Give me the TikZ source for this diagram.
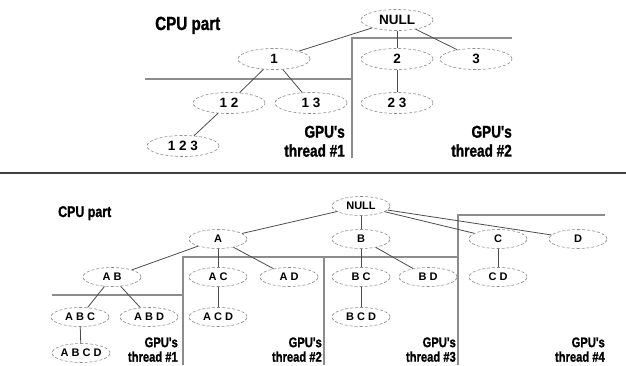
\documentclass[tikz,border=0pt]{standalone}
\usepackage{fontspec}
\setmainfont{Liberation Sans}
\newfontfamily\condfont[FakeStretch=0.8, FakeBold=1.2]{Liberation Sans Bold}
\usetikzlibrary{shapes.geometric}

\begin{document}
\begin{tikzpicture}[x=1pt, y=-1pt,
    noT/.style={ellipse, draw=black!45, dash pattern=on 3pt off 2pt, line width=0.6pt,
      minimum width=72pt, minimum height=21pt, inner sep=0pt,
      font=\fontsize{13.5}{15}\selectfont\bfseries},
    noB/.style={noT, minimum width=58pt, minimum height=19pt,
      font=\fontsize{11}{13}\selectfont\bfseries},
    aresta/.style={draw=black!70, line width=0.8pt},
    parede/.style={draw=black!45, line width=2.2pt},
    gpuT/.style={align=right, inner sep=0pt, anchor=south east,
      font=\condfont\fontsize{17}{19}\selectfont},
    gpuB/.style={gpuT, font=\condfont\fontsize{14}{14.5}\selectfont}]
  \useasboundingbox (0,0) rectangle (626,365);

  % Parte 1: conjuntos {1,2,3}
  \node[anchor=base west, inner sep=0pt, font=\condfont\fontsize{19}{21}\selectfont] (cpuT) at (155,30) {CPU part};
  \draw[parede] (145,79) -- (352,79);
  \draw[parede] (352,158) -- (352,38) -- (512,38);
  \node[noT] (nT) at (397,20) {NULL};
  \node[noT] (t1) at (274,59) {1};
  \node[noT] (t2) at (397,59) {2};
  \node[noT] (t3) at (476,59) {3};
  \node[noT] (t12) at (229,103) {1 2};
  \node[noT] (t13) at (311,103) {1 3};
  \node[noT] (t23) at (397,103) {2 3};
  \node[noT] (t123) at (183,146) {1 2 3};
  \draw[aresta] (nT) -- (t1);
  \draw[aresta] (nT) -- (t2);
  \draw[aresta] (nT) -- (t3);
  \draw[aresta] (t1) -- (t12);
  \draw[aresta] (t1) -- (t13);
  \draw[aresta] (t2) -- (t23);
  \draw[aresta] (t12) -- (t123);
  \node[gpuT] (gT1) at (345,157) {GPU's\\thread \#1};
  \node[gpuT] (gT2) at (512,157) {GPU's\\thread \#2};

  % Separador
  \draw[black!75, line width=1.2pt] (0,173) -- (626,173);

  % Parte 2: conjuntos {A,B,C,D}
  \node[anchor=base west, inner sep=0pt, font=\condfont\fontsize{15.5}{17}\selectfont] (cpuB) at (58,217) {CPU part};
  \draw[parede] (52,295) -- (183,295);
  \draw[parede] (183,365) -- (183,257) -- (458,257);
  \draw[parede] (324,257) -- (324,365);
  \draw[parede] (458,365) -- (458,215) -- (605,215);
  \node[noB] (nB) at (361,206) {NULL};
  \node[noB] (a) at (218,239) {A};
  \node[noB] (b) at (361,239) {B};
  \node[noB] (c) at (498,239) {C};
  \node[noB] (d) at (578,239) {D};
  \node[noB] (ab) at (112,277) {A B};
  \node[noB] (ac) at (218,277) {A C};
  \node[noB] (ad) at (289,277) {A D};
  \node[noB] (bc) at (361,277) {B C};
  \node[noB] (bd) at (428,277) {B D};
  \node[noB] (cd) at (498,277) {C D};
  \node[noB] (abc) at (80,317) {A B C};
  \node[noB] (abd) at (149,317) {A B D};
  \node[noB] (acd) at (218,317) {A C D};
  \node[noB] (bcd) at (361,317) {B C D};
  \node[noB] (abcd) at (81,353) {A B C D};
  \draw[aresta] (nB) -- (a);
  \draw[aresta] (nB) -- (b);
  \draw[aresta] (nB) -- (c);
  \draw[aresta] (nB) -- (d);
  \draw[aresta] (a) -- (ab);
  \draw[aresta] (a) -- (ac);
  \draw[aresta] (a) -- (ad);
  \draw[aresta] (b) -- (bc);
  \draw[aresta] (b) -- (bd);
  \draw[aresta] (c) -- (cd);
  \draw[aresta] (ab) -- (abc);
  \draw[aresta] (ab) -- (abd);
  \draw[aresta] (ac) -- (acd);
  \draw[aresta] (bc) -- (bcd);
  \draw[aresta] (abc) -- (abcd);
  \node[gpuB] (gB1) at (178,362) {GPU's\\thread \#1};
  \node[gpuB] (gB2) at (322,362) {GPU's\\thread \#2};
  \node[gpuB] (gB3) at (456,362) {GPU's\\thread \#3};
  \node[gpuB] (gB4) at (605,362) {GPU's\\thread \#4};
\end{tikzpicture}
\end{document}
